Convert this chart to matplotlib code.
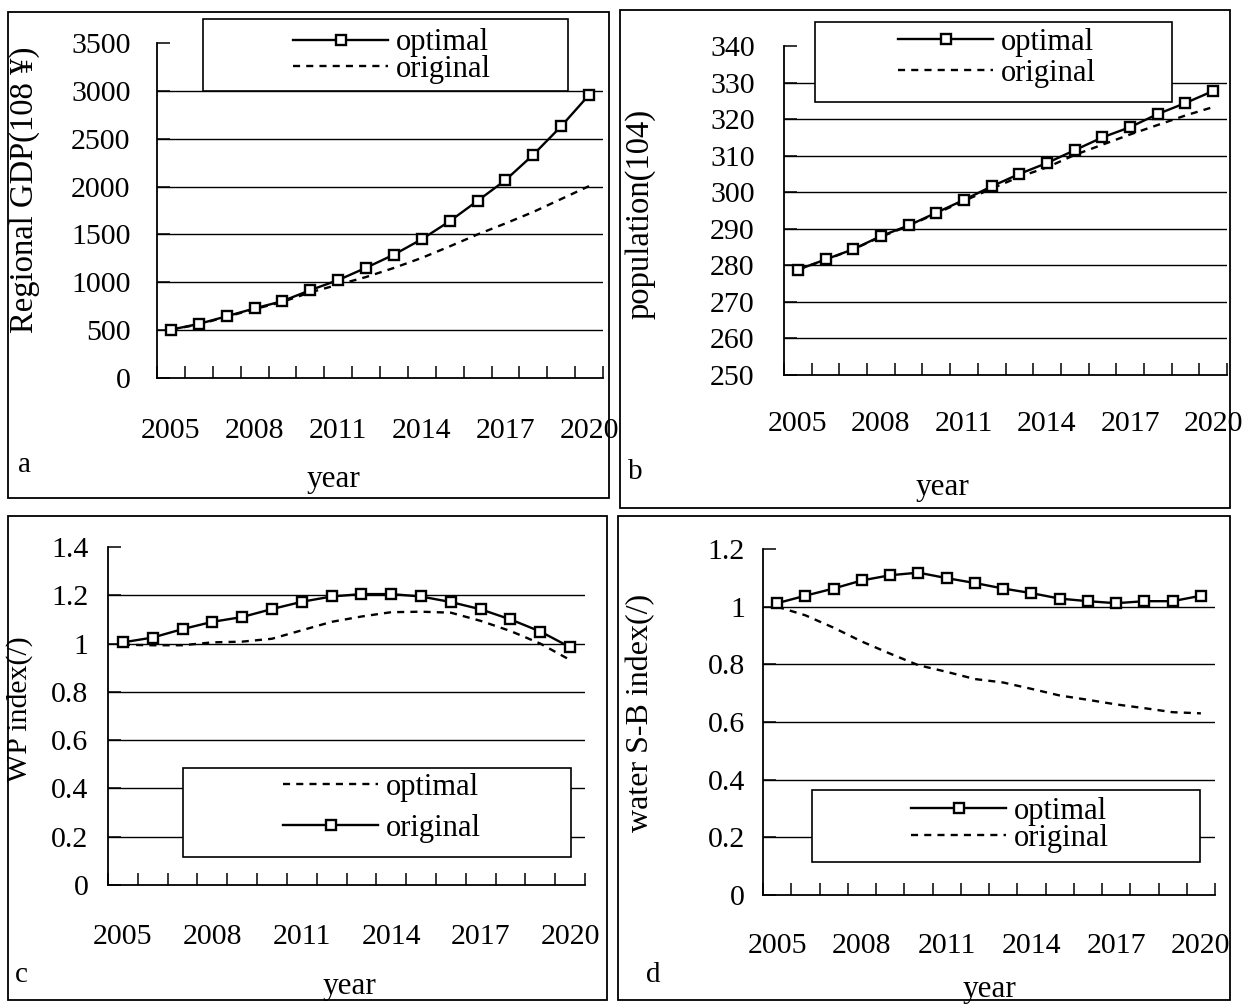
import matplotlib
matplotlib.use("Agg")
import matplotlib.pyplot as plt
from matplotlib.patches import Rectangle
from matplotlib.lines import Line2D
from matplotlib.ticker import MultipleLocator, FixedLocator

plt.rcParams['font.family'] = ['Liberation Serif', 'DejaVu Serif']

# data
years = list(range(2005, 2021))
year_labels = [2005, 2008, 2011, 2014, 2017, 2020]

gdp_optimal = [505, 565, 645, 727, 803, 918, 1023, 1152, 1289, 1450, 1638, 1851, 2067, 2333, 2630, 2958]
gdp_original = [505, 560, 640, 720, 795, 895, 975, 1055, 1150, 1255, 1375, 1500, 1615, 1735, 1870, 2005]

pop_optimal = [278.8, 281.6, 284.4, 288.0, 290.9, 294.4, 297.9, 301.6, 305.0, 308.0, 311.5, 315.0, 317.8, 321.4, 324.4, 327.7]
pop_original = [278.8, 281.5, 284.4, 287.8, 290.8, 294.2, 297.6, 301.0, 304.2, 306.8, 310.2, 313.0, 315.8, 318.4, 321.0, 323.3]

# panel c: the legend calls the marked line "original" and the dashed one "optimal"
wp_marked = [1.005, 1.025, 1.06, 1.09, 1.11, 1.143, 1.173, 1.195, 1.205, 1.205, 1.195, 1.172, 1.142, 1.10, 1.05, 0.985]
wp_dashed = [0.995, 0.993, 0.993, 1.005, 1.008, 1.02, 1.055, 1.09, 1.112, 1.13, 1.132, 1.128, 1.094, 1.052, 1.0, 0.932]

wsb_optimal = [1.012, 1.038, 1.063, 1.091, 1.109, 1.118, 1.099, 1.082, 1.063, 1.047, 1.028, 1.019, 1.012, 1.019, 1.019, 1.038]
wsb_original = [1.0, 0.97, 0.927, 0.879, 0.837, 0.797, 0.774, 0.749, 0.737, 0.715, 0.692, 0.677, 0.661, 0.648, 0.634, 0.63]

W, H = 1255, 1005
fig = plt.figure(figsize=(W / 100, H / 100), dpi=100)


def fx(px):
    return px / W


def fy(py):
    return 1 - py / H


def box(x0, y0, x1, y1, z=3, lw=1.3, fc='white'):
    r = Rectangle((fx(x0), fy(y1)), fx(x1) - fx(x0), fy(y0) - fy(y1),
                  transform=fig.transFigure, fc=fc, ec='black', lw=lw, zorder=z)
    fig.add_artist(r)


def solid_kw():
    return dict(color='black', lw=1.7, marker='s', ms=7, mfc='white', mec='black', mew=1.7)


def dash_kw():
    return dict(color='black', lw=1.7, ls=(0, (3, 2.6)))


def make_panel(rect, ymin, ymax, ystep, yfmt, xpad, ypad):
    ax = fig.add_axes([fx(rect[0]), fy(rect[3]), fx(rect[2]) - fx(rect[0]), fy(rect[1]) - fy(rect[3])])
    ax.set_xlim(2004.5, 2020.5)
    ax.set_ylim(ymin, ymax)
    ax.patch.set_alpha(0)
    for s in ['top', 'right']:
        ax.spines[s].set_visible(False)
    for s in ['left', 'bottom']:
        ax.spines[s].set_linewidth(1.3)
    ax.yaxis.set_major_locator(MultipleLocator(ystep))
    ax.yaxis.set_major_formatter(yfmt)
    ax.xaxis.set_major_locator(FixedLocator(year_labels))
    ax.xaxis.set_minor_locator(FixedLocator([2004.5 + k for k in range(17)]))
    ax.tick_params(axis='x', which='major', length=0, pad=xpad, labelsize=21.5)
    ax.tick_params(axis='x', which='minor', direction='in', length=9, width=1.1)
    ax.tick_params(axis='y', direction='in', length=9, width=1.1, pad=ypad, labelsize=21.5)
    # gridlines, none on the top edge
    v = ymin + ystep
    while v < ymax - ystep / 2:
        ax.axhline(v, color='black', lw=1.0, zorder=1)
        v += ystep
    return ax


def fmt_plain(v, pos):
    s = ('%.1f' % v).rstrip('0').rstrip('.')
    return s


def fmt_int(v, pos):
    return '%d' % round(v)


# outer panel frames
box(8, 12, 609, 498, z=-1, fc='none')
box(620, 10, 1230, 508, z=-1, fc='none')
box(8, 516, 607, 1000, z=-1, fc='none')
box(618, 516, 1230, 1000, z=-1, fc='none')

# panel a
ax_a = make_panel((157, 43, 603, 378), 0, 3500, 500, fmt_int, 29, 19)
ax_a.plot(years, gdp_original, zorder=2, **dash_kw())
ax_a.plot(years, gdp_optimal, zorder=3, **solid_kw())
ax_a.set_xlabel('year', fontsize=22.5)
ax_a.xaxis.set_label_coords(0.395, -0.26)
ax_a.set_ylabel('Regional GDP(108 ¥)', fontsize=23.5)
ax_a.yaxis.set_label_coords(-0.262, 0.561)

# panel b
ax_b = make_panel((784, 46, 1227, 375), 250, 340, 10, fmt_int, 26, 21)
ax_b.plot(years, pop_original, zorder=2, **dash_kw())
ax_b.plot(years, pop_optimal, zorder=3, **solid_kw())
ax_b.set_xlabel('year', fontsize=22.5)
ax_b.xaxis.set_label_coords(0.358, -0.297)
ax_b.set_ylabel('population(104)', fontsize=23.5)
ax_b.yaxis.set_label_coords(-0.29, 0.49)

# panel c
ax_c = make_panel((108, 547, 585, 885), 0, 1.4, 0.2, fmt_plain, 28, 14)
ax_c.plot(years, wp_dashed, zorder=2, **dash_kw())
ax_c.plot(years, wp_marked, zorder=3, **solid_kw())
ax_c.set_xlabel('year', fontsize=22.5)
ax_c.xaxis.set_label_coords(0.507, -0.257)
ax_c.set_ylabel('WP index(/)', fontsize=21.5)
ax_c.yaxis.set_label_coords(-0.157, 0.52)

# panel d
ax_d = make_panel((763, 549, 1215, 895), 0, 1.2, 0.2, fmt_plain, 27, 13)
ax_d.plot(years, wsb_original, zorder=2, **dash_kw())
ax_d.plot(years, wsb_optimal, zorder=3, **solid_kw())
ax_d.set_xlabel('year', fontsize=22.5)
ax_d.xaxis.set_label_coords(0.502, -0.231)
ax_d.set_ylabel('water S-B index(/)', fontsize=23)
ax_d.yaxis.set_label_coords(-0.239, 0.526)

# legends: white boxes with frameless figure legends on top
h_solid = Line2D([], [], **solid_kw())
h_dash = Line2D([], [], **dash_kw())


def legend_box(rect, centre, handles, labels, spacing):
    x0, y0, x1, y1 = rect
    box(x0, y0, x1, y1, z=3, lw=1.2)
    fig.legend(handles, labels, loc='center', bbox_to_anchor=(fx(centre[0]), fy(centre[1])),
               bbox_transform=fig.transFigure, frameon=False, fontsize=22, handlelength=3.1,
               handletextpad=0.25, labelspacing=spacing, borderpad=0, borderaxespad=0)


legend_box((203, 19, 568, 91), (392, 56), [h_solid, h_dash], ['optimal', 'original'], -0.08)
legend_box((815, 22, 1172, 102), (997, 58), [h_solid, h_dash], ['optimal', 'original'], 0.07)
legend_box((183, 768, 571, 857), (382, 808), [h_dash, h_solid], ['optimal', 'original'], 0.4)
legend_box((812, 790, 1200, 862), (1010, 825), [h_solid, h_dash], ['optimal', 'original'], -0.06)

# panel letters
fig.text(fx(18), fy(465), 'a', fontsize=21, va='center', ha='left')
fig.text(fx(628), fy(472), 'b', fontsize=21, va='center', ha='left')
fig.text(fx(15), fy(975), 'c', fontsize=21, va='center', ha='left')
fig.text(fx(646), fy(975), 'd', fontsize=21, va='center', ha='left')

fig.savefig('out.png', dpi=100)
